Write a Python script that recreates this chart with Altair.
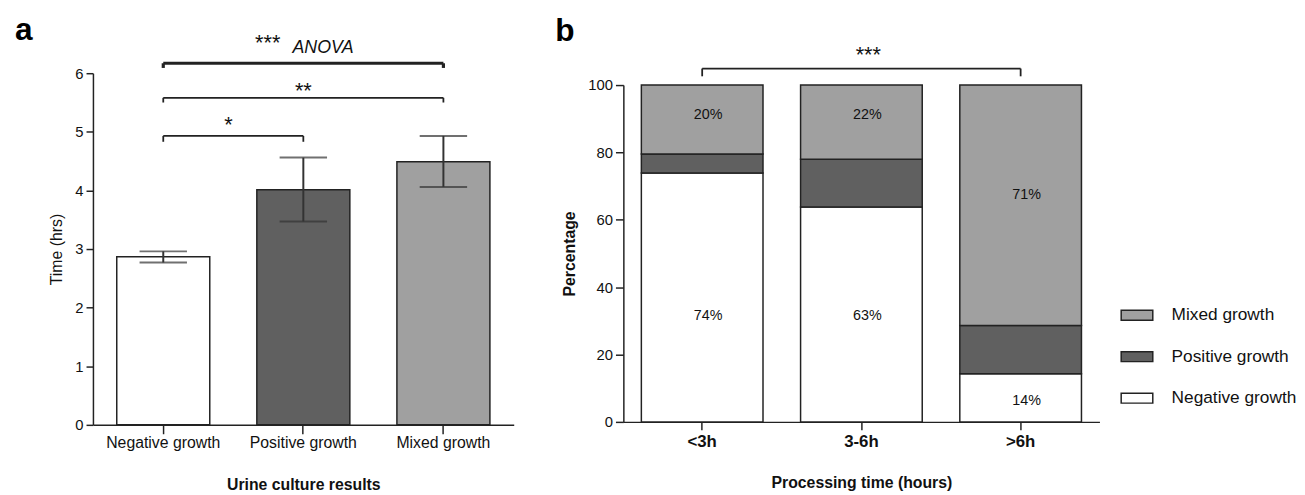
import altair as alt
import pandas as pd

FONT = "Liberation Sans"

# ---------------- panel a data ----------------
results = ["Negative growth", "Positive growth", "Mixed growth"]
mean_time = [2.87, 4.01, 4.49]
err_low = [2.77, 3.47, 4.06]
err_high = [2.96, 4.56, 4.93]

# significance brackets (panel a)
br_start = ["Negative growth", "Negative growth", "Negative growth"]
br_end = ["Positive growth", "Mixed growth", "Mixed growth"]
br_level = [4.93, 5.58, 6.17]
br_tip = [4.83, 5.50, 6.09]
br_kind = ["thin", "thin", "thick"]

# ---------------- panel b data ----------------
times = ["<3h", "3-6h", ">6h"]
negative_pct = [73.9, 63.8, 14.3]
positive_pct = [5.6, 14.2, 14.3]
mixed_pct = [20.5, 22.0, 71.4]

lab_time = ["<3h", "<3h", "3-6h", "3-6h", ">6h", ">6h"]
lab_text = ["20%", "74%", "22%", "63%", "71%", "14%"]
lab_y = [91.0, 31.4, 91.0, 31.4, 67.2, 6.2]

palette_domain = ["Mixed growth", "Positive growth", "Negative growth"]
palette_range = ["#a0a0a0", "#606060", "#ffffff"]

# ---------------- tables ----------------
df_a = pd.DataFrame({"Result": results, "Time": mean_time, "lo": err_low, "hi": err_high})
df_br = pd.DataFrame({"s": br_start, "e": br_end, "lvl": br_level, "tip": br_tip, "kind": br_kind})
tips = []
for s, e, l, t, k in zip(br_start, br_end, br_level, br_tip, br_kind):
    tips.append({"x": s, "lvl": l, "tip": t, "kind": k})
    tips.append({"x": e, "lvl": l, "tip": t, "kind": k})
df_tips = pd.DataFrame(tips)

rows = []
for t, n, p, m in zip(times, negative_pct, positive_pct, mixed_pct):
    rows.append({"Time": t, "Result": "Negative growth", "Pct": n, "rank": 0})
    rows.append({"Time": t, "Result": "Positive growth", "Pct": p, "rank": 1})
    rows.append({"Time": t, "Result": "Mixed growth", "Pct": m, "rank": 2})
df_b = pd.DataFrame(rows)
df_lab = pd.DataFrame({"Time": lab_time, "txt": lab_text, "y": lab_y})

# ---------------- panel a ----------------
xa_scale = alt.Scale(domain=results, paddingInner=0.336, paddingOuter=0.17)
xa = alt.X("Result:N", scale=xa_scale,
           axis=alt.Axis(title="Urine culture results", labelAngle=0, tickSize=9,
                         labelFontSize=16, labelPadding=1, titleFontSize=16,
                         titleFontWeight="bold", titlePadding=26))
ya_scale = alt.Scale(domain=[0, 6], nice=False)
sw_scale = alt.Scale(domain=["thin", "thick"], range=[1.8, 3.2])

bars_a = alt.Chart(df_a).mark_bar(stroke="#222", strokeWidth=1.5).encode(
    x=xa,
    y=alt.Y("Time:Q", scale=ya_scale,
            axis=alt.Axis(title="Time (hrs)", values=[0, 1, 2, 3, 4, 5, 6], format="d", tickSize=7,
                          labelFontSize=15, labelPadding=3, titleFontSize=16,
                          titleFontWeight="normal", titlePadding=10)),
    fill=alt.Fill("Result:N", scale=alt.Scale(domain=palette_domain, range=palette_range), legend=None),
)
err_a = alt.Chart(df_a).mark_rule(color="#333", strokeWidth=2).encode(
    x=alt.X("Result:N", scale=xa_scale), y="lo:Q", y2="hi:Q")
caps_lo = alt.Chart(df_a).mark_tick(color="#333", thickness=2, size=48).encode(
    x=alt.X("Result:N", scale=xa_scale), y="lo:Q")
caps_hi = alt.Chart(df_a).mark_tick(color="#333", thickness=2, size=48).encode(
    x=alt.X("Result:N", scale=xa_scale), y="hi:Q")

br_h = alt.Chart(df_br).mark_rule(color="#222").encode(
    x=alt.X("s:N", scale=xa_scale), x2="e:N", y="lvl:Q",
    strokeWidth=alt.StrokeWidth("kind:N", scale=sw_scale, legend=None))
br_v = alt.Chart(df_tips).mark_rule(color="#222").encode(
    x=alt.X("x:N", scale=xa_scale), y="lvl:Q", y2="tip:Q",
    strokeWidth=alt.StrokeWidth("kind:N", scale=sw_scale, legend=None))

star_x = ["Positive growth", "Positive growth", "Negative growth"]
star_y = [6.39, 5.58, 4.99]
star_t = ["***", "**", "*"]
star_dx = [-36, 0, 66]
star_layers = []
for sx, sy, st, sdx in zip(star_x, star_y, star_t, star_dx):
    star_layers.append(
        alt.Chart(pd.DataFrame({"x": [sx], "y": [sy], "t": [st]})).mark_text(
            fontSize=22, baseline="alphabetic", dx=sdx, color="#111").encode(
            x=alt.X("x:N", scale=xa_scale), y="y:Q", text="t:N"))
anova = alt.Chart(pd.DataFrame({"x": ["Positive growth"], "y": [6.34], "t": ["ANOVA"]})).mark_text(
    fontSize=18, fontStyle="italic", baseline="alphabetic", dx=20, color="#111").encode(
    x=alt.X("x:N", scale=xa_scale), y="y:Q", text="t:N")

panel_a = alt.layer(bars_a, err_a, caps_lo, caps_hi, br_h, br_v, *star_layers, anova).properties(
    width=426, height=356,
    title=alt.TitleParams("a", anchor="start", frame="group", dx=-79, fontSize=32,
                          fontWeight="bold", offset=-15, color="#000"))

# ---------------- panel b ----------------
B_H = 353  # panel height; the 0-100 range sits in its lower 341 px
xb_scale = alt.Scale(domain=times, paddingInner=0.236, paddingOuter=0.113)
xb = alt.X("Time:N", scale=xb_scale,
           axis=alt.Axis(title="Processing time (hours)", labelAngle=0, tickSize=8,
                         labelFontSize=17, labelFontWeight="bold", labelPadding=4,
                         titleFontSize=16, titleFontWeight="bold", titlePadding=25))
yb_scale = alt.Scale(domain=[0, 100], nice=False, range=[B_H, 12])

bars_b = alt.Chart(df_b).mark_bar(stroke="#222", strokeWidth=1.5).encode(
    x=xb,
    y=alt.Y("Pct:Q", stack="zero", scale=yb_scale,
            axis=alt.Axis(title="Percentage", values=[0, 20, 40, 60, 80, 100], tickSize=8,
                          labelFontSize=15, labelPadding=3, titleFontSize=16,
                          titleFontWeight="bold", titlePadding=10)),
    fill=alt.Fill("Result:N", scale=alt.Scale(domain=palette_domain, range=palette_range),
                  legend=alt.Legend(title=None, orient="none", legendX=509, legendY=234,
                                    symbolType="M-1.6,-0.5H1.6V0.5H-1.6Z", symbolSize=400,
                                    symbolStrokeColor="#222", symbolStrokeWidth=1.5,
                                    labelFontSize=17.5, labelOffset=24, rowPadding=22,
                                    labelColor="#111")),
    order=alt.Order("rank:Q", sort="ascending"),
)
labels_b = alt.Chart(df_lab).mark_text(fontSize=14.5, dx=6, color="#111").encode(
    x=alt.X("Time:N", scale=xb_scale), y="y:Q", text="txt:N")

brb_h = alt.Chart(pd.DataFrame({"s": ["<3h"], "e": [">6h"], "lvl": [104.9]})).mark_rule(
    color="#222", strokeWidth=1.8).encode(x=alt.X("s:N", scale=xb_scale), x2="e:N", y="lvl:Q")
brb_v = alt.Chart(pd.DataFrame({"x": ["<3h", ">6h"], "lvl": [104.9, 104.9], "tip": [102.6, 102.6]})).mark_rule(
    color="#222", strokeWidth=1.8).encode(x=alt.X("x:N", scale=xb_scale), y="lvl:Q", y2="tip:Q")
stars_b = alt.Chart(pd.DataFrame({"x": ["3-6h"], "y": [106.8], "t": ["***"]})).mark_text(
    fontSize=22, baseline="alphabetic", dx=7, color="#111").encode(
    x=alt.X("x:N", scale=xb_scale), y="y:Q", text="t:N")

panel_b = alt.layer(bars_b, labels_b, brb_h, brb_v, stars_b).properties(
    width=482, height=B_H,
    title=alt.TitleParams("b", anchor="start", frame="group", dx=-69, fontSize=32,
                          fontWeight="bold", offset=-4, color="#000"))

chart = alt.hconcat(panel_a, panel_b, spacing=42).resolve_scale(
    fill="independent", strokeWidth="independent"
).properties(
    padding={"left": 7, "top": 3, "right": 0, "bottom": 0}
).configure(font=FONT).configure_view(stroke=None).configure_axis(
    grid=False, domainColor="#222", domainWidth=1.5, tickColor="#222", tickWidth=1.5,
    labelColor="#111", titleColor="#111", labelFont=FONT, titleFont=FONT
).configure_title(font=FONT)

chart.save("out.html", embed_options={"renderer": "svg", "actions": False})
